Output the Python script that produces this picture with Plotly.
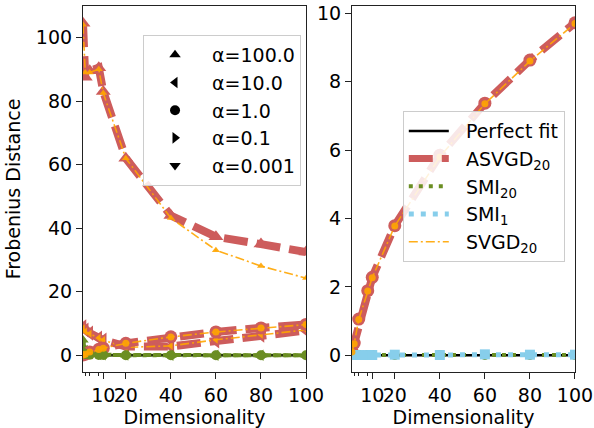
import plotly.graph_objects as go

dims = [1, 2, 4, 8, 10, 20, 40, 60, 80, 100]
perfect_fit = [0, 0, 0, 0, 0, 0, 0, 0, 0, 0]

# left panel, per alpha
asvgd_a100 = [104.5, 87.5, 89.5, 90.5, 83.0, 62.0, 44.0, 37.3, 35.0, 32.5]
svgd_a100 = [104.0, 89.0, 89.0, 90.0, 82.5, 62.0, 43.2, 33.1, 28.1, 24.3]
asvgd_a10 = [9.0, 8.0, 7.0, 5.5, 4.8, 2.8, 2.8, 4.5, 6.3, 7.8]
svgd_a10 = [8.5, 7.5, 6.8, 5.5, 4.8, 2.5, 3.0, 4.9, 6.5, 8.0]
asvgd_a1 = [0.12, 0.36, 1.06, 1.89, 2.28, 3.79, 5.85, 7.37, 8.63, 9.72]
svgd_a1 = [0.10, 0.34, 1.05, 1.88, 2.27, 3.78, 5.80, 7.35, 8.60, 9.70]
smi20_a100 = [4.8, 2.0, 0.6, 0.3, 0.2, 0.1, 0.05, 0.05, 0.05, 0.05]
smi20_a10 = [3.5, 1.5, 0.5, 0.3, 0.2, 0.1, 0.05, 0.05, 0.05, 0.05]
smi20_a1 = [0.8, 0.4, 0.2, 0.1, 0.1, 0.05, 0.03, 0.03, 0.03, 0.03]

# right panel (alpha = 1)
asvgd_right = [0.12, 0.36, 1.06, 1.89, 2.28, 3.79, 5.85, 7.37, 8.63, 9.72]
svgd_right = [0.10, 0.34, 1.05, 1.88, 2.27, 3.78, 5.80, 7.35, 8.60, 9.70]
smi20_right = [0.01, 0.01, 0.01, 0.01, 0.01, 0.01, 0.01, 0.01, 0.01, 0.01]
smi1_right = [0.01, 0.01, 0.01, 0.01, 0.01, 0.02, 0.01, 0.03, 0.02, 0.02]

alpha_labels = ["α=100.0", "α=10.0", "α=1.0", "α=0.1", "α=0.001"]
alpha_symbols = ["triangle-up", "triangle-left", "circle", "triangle-right", "triangle-down"]
method_labels = ["Perfect fit", "ASVGD<sub>20</sub>", "SMI<sub>20</sub>", "SMI<sub>1</sub>", "SVGD<sub>20</sub>"]

RED = "indianred"
GREEN = "olivedrab"
BLUE = "skyblue"
ORANGE = "rgba(255,165,0,0.9)"
DASH_RED = "24px,9px"
DASH_DOT = "4px,6px"
DASH_DOT_B = "5px,7px"
DASH_SV = "9px,3px,2px,3px"
FONT = "DejaVu Sans"
NB = "\u00a0"

fig = go.Figure()

def add(x, y, color, width, dash, symbol, msize, xa="x", ya="y", mode="lines+markers"):
    fig.add_trace(go.Scatter(
        x=x, y=y, xaxis=xa, yaxis=ya, mode=mode, showlegend=False,
        line=dict(color=color, width=width, dash=dash),
        marker=dict(symbol=symbol, size=msize, color=color),
        hoverinfo="skip"))

# ---- left panel
add(dims, perfect_fit, "black", 2.5, "solid", "circle", 1, mode="lines")
left_sets = [
    (asvgd_a100, smi20_a100, svgd_a100, alpha_symbols[0]),
    (asvgd_a10, smi20_a10, svgd_a10, alpha_symbols[1]),
    (asvgd_a1, smi20_a1, svgd_a1, alpha_symbols[2]),
]
for a, s, v, sym in left_sets:
    add(dims, a, RED, 8, DASH_RED, sym, 13)
    add(dims, s, GREEN, 4, DASH_DOT, sym, 10)
    add(dims, v, ORANGE, 1.6, DASH_SV, sym, 7)

# ---- right panel
add(dims, perfect_fit, "black", 2.5, "solid", "circle", 1, "x2", "y2", mode="lines")
add(dims, asvgd_right, RED, 8, DASH_RED, "circle", 13, "x2", "y2")
add(dims, smi20_right, GREEN, 4, DASH_DOT, "circle", 10, "x2", "y2")
add(dims, smi1_right, BLUE, 5, DASH_DOT_B, "square", 10, "x2", "y2")
add(dims, svgd_right, ORANGE, 1.6, DASH_SV, "circle", 7, "x2", "y2")

# ---- legend proxies: alphas (left legend)
for lab, sym in zip(alpha_labels, alpha_symbols):
    fig.add_trace(go.Scatter(x=[None], y=[None], mode="markers", name=NB + lab,
                             marker=dict(symbol=sym, size=10, color="black"),
                             legend="legend", showlegend=True))

# ---- legend proxies: methods (right legend)
proxy_styles = [("black", 2.5, "solid"), (RED, 7, DASH_RED), (GREEN, 4, DASH_DOT),
                (BLUE, 5, DASH_DOT_B), (ORANGE, 1.6, DASH_SV)]
for lab, (c, w, d) in zip(method_labels, proxy_styles):
    fig.add_trace(go.Scatter(x=[None], y=[None], xaxis="x2", yaxis="y2", mode="lines",
                             name=NB * 2 + lab, line=dict(color=c, width=w, dash=d),
                             legend="legend2", showlegend=True))

axis_common = dict(showline=True, linecolor="#222", linewidth=1.2, mirror=True,
                   ticks="outside", ticklen=6, tickwidth=1.2, tickcolor="#222",
                   showgrid=False, zeroline=False, automargin=False,
                   tickfont=dict(family=FONT, size=19, color="black"))
xticks = [10, 20, 40, 60, 80, 100]
minor_ticks = [2, 4, 8]

fig.update_layout(
    width=594, height=428,
    margin=dict(l=83, r=19, t=6, b=56),
    paper_bgcolor="white", plot_bgcolor="white",
    font=dict(family=FONT, size=19, color="black"),
    xaxis=dict(domain=[0, 0.4533], range=[1, 100], tickvals=xticks, tickangle=0,
               title=dict(text="Dimensionality", standoff=2, font=dict(size=19)),
               minor=dict(tickvals=minor_ticks, ticks="outside", ticklen=3, tickcolor="#222"),
               **axis_common),
    yaxis=dict(range=[-5.23, 109.9], tickvals=[0, 20, 40, 60, 80, 100],
               title=dict(text="Frobenius Distance", standoff=10, font=dict(size=19)),
               **axis_common),
    xaxis2=dict(domain=[0.5467, 1], range=[1, 100], tickvals=xticks, anchor="y2", tickangle=0,
                title=dict(text="Dimensionality", standoff=2, font=dict(size=19)),
                minor=dict(tickvals=minor_ticks, ticks="outside", ticklen=3, tickcolor="#222"),
                **axis_common),
    yaxis2=dict(range=[-0.486, 10.21], tickvals=[0, 2, 4, 6, 8, 10], anchor="x2",
                **axis_common),
    legend=dict(x=0.122, y=0.921, xanchor="left", yanchor="top", itemwidth=52,
                bgcolor="rgba(255,255,255,0.85)", bordercolor="#cccccc", borderwidth=1,
                font=dict(family=FONT, size=19)),
    legend2=dict(x=0.650, y=0.713, xanchor="left", yanchor="top", itemwidth=40,
                 bgcolor="rgba(255,255,255,0.85)", bordercolor="#cccccc", borderwidth=1,
                 font=dict(family=FONT, size=19)),
)

fig.write_html("out.html")
